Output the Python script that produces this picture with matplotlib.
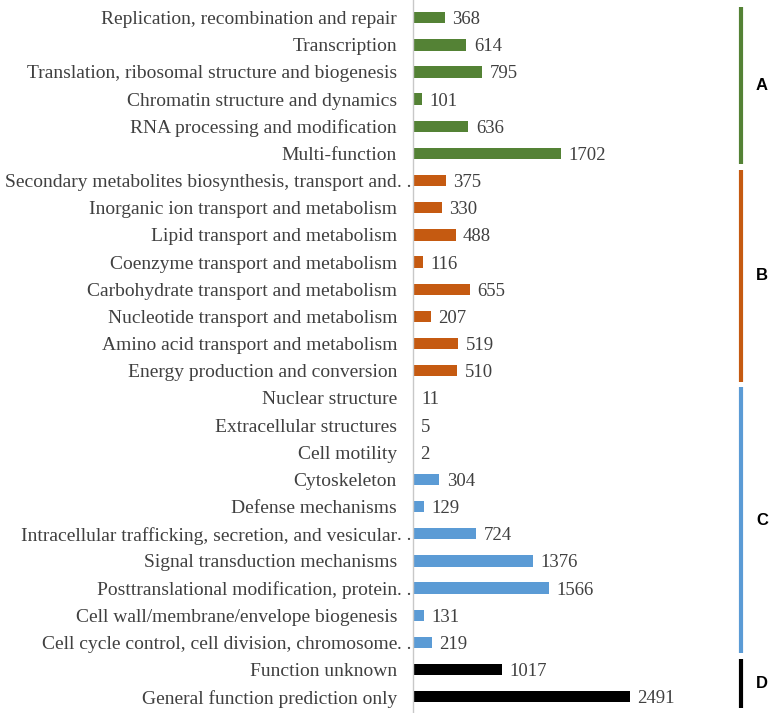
import matplotlib.pyplot as plt
from matplotlib.transforms import blended_transform_factory, offset_copy

# COG categories, top to bottom (".." marks labels that were cut short in the original)
labels = [
    "Replication, recombination and repair",
    "Transcription",
    "Translation, ribosomal structure and biogenesis",
    "Chromatin structure and dynamics",
    "RNA processing and modification",
    "Multi-function",
    "Secondary metabolites biosynthesis, transport and..",
    "Inorganic ion transport and metabolism",
    "Lipid transport and metabolism",
    "Coenzyme transport and metabolism",
    "Carbohydrate transport and metabolism",
    "Nucleotide transport and metabolism",
    "Amino acid transport and metabolism",
    "Energy production and conversion",
    "Nuclear structure",
    "Extracellular structures",
    "Cell motility",
    "Cytoskeleton",
    "Defense mechanisms",
    "Intracellular trafficking, secretion, and vesicular..",
    "Signal transduction mechanisms",
    "Posttranslational modification, protein..",
    "Cell wall/membrane/envelope biogenesis",
    "Cell cycle control, cell division, chromosome..",
    "Function unknown",
    "General function prediction only",
]
counts = [368, 614, 795, 101, 636, 1702,
          375, 330, 488, 116, 655, 207, 519, 510,
          11, 5, 2, 304, 129, 724, 1376, 1566, 131, 219,
          1017, 2491]
groups = ["A"] * 6 + ["B"] * 8 + ["C"] * 10 + ["D"] * 2
group_names = ["A", "B", "C", "D"]
group_colors = {"A": "#548235", "B": "#C55A11", "C": "#5B9BD5", "D": "#000000"}

plt.rcParams['font.family'] = ['Liberation Serif', 'DejaVu Serif']

fig = plt.figure(figsize=(7.73, 7.13), dpi=100)
ax = fig.add_axes([413 / 773, 0.0, 360 / 773, 1.0])

ypos = list(range(len(labels)))
colors = [group_colors[g] for g in groups]
ax.barh(ypos, counts, height=0.42, color=colors)

for y, v in zip(ypos, counts):
    ax.text(v + 85, y, str(v), va='center_baseline', ha='left', fontsize=13.5,
            color='#404040')

# category labels drawn by hand so the ".." of cut labels can spill into the gap
trans = blended_transform_factory(ax.transAxes, ax.transData)
lab_trans = offset_copy(trans, fig=fig, x=-16, y=0, units='dots')
for y, lab in zip(ypos, labels):
    if lab.endswith(".."):
        ax.text(0, y, lab[:-2], transform=lab_trans, ha='right', va='center_baseline',
                fontsize=14, color='#404040')
        ax.text(0, y, ". .", transform=lab_trans, ha='left', va='center_baseline',
                fontsize=14, color='#404040')
    else:
        ax.text(0, y, lab, transform=lab_trans, ha='right', va='center_baseline',
                fontsize=14, color='#404040')

ax.set_yticks([])
ax.set_ylim(len(labels) - 0.4, -0.65)
ax.set_xlim(0, 4133)
ax.set_xticks([])
for s in ['top', 'right', 'bottom']:
    ax.spines[s].set_visible(False)
ax.spines['left'].set_color('#c8c8c8')
ax.spines['left'].set_linewidth(1.0)

# group brackets on the right
for g in group_names:
    idx = [i for i, gg in enumerate(groups) if gg == g]
    top, bot = min(idx) - 0.4, max(idx) + 0.4
    ax.plot([0.911, 0.911], [top, bot], transform=trans, color=group_colors[g],
            lw=3, solid_capstyle='butt', clip_on=False)
    ax.text(0.969, (top + bot) / 2, g, transform=trans, ha='center', va='center',
            fontsize=12, fontweight='bold', family=['Liberation Sans', 'DejaVu Sans'])

fig.savefig('out.png', dpi=100)
